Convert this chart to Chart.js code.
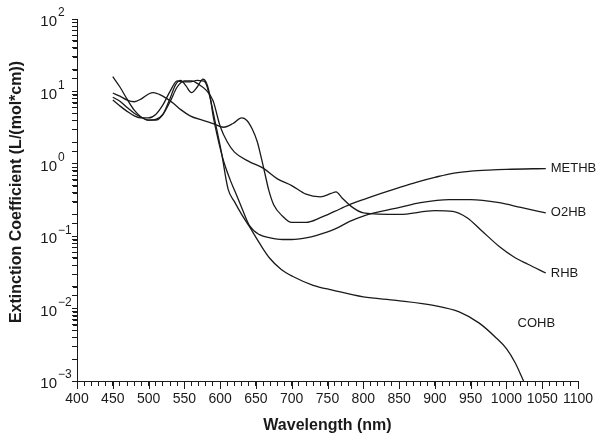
<!DOCTYPE html>
<html>
<head>
<meta charset="utf-8">
<script src="https://cdn.jsdelivr.net/npm/chart.js@4.4.1/dist/chart.umd.min.js"></script>
<style>
  html, body { margin: 0; padding: 0; background: #fff; }
</style>
</head>
<body>
<canvas id="chart" width="600" height="435"></canvas>
<script>
// wavelength (nm) / extinction values
const methbNm  = [450, 460, 470, 480, 490, 500, 507, 515, 525, 535, 545, 558, 575, 590, 605, 618, 630, 637, 645, 652, 658, 663, 668, 675, 687, 700, 720, 740, 760, 780, 800, 825, 850, 875, 900, 925, 950, 975, 1000, 1055];
const methbVal = [9.5, 8.6, 7.6, 7.2, 7.9, 9.2, 9.6, 9.1, 8.0, 6.8, 5.6, 4.6, 4.0, 3.6, 3.2, 3.6, 4.3, 4.0, 3.0, 2.0, 1.15, 0.7, 0.43, 0.27, 0.19, 0.155, 0.155, 0.18, 0.22, 0.27, 0.32, 0.39, 0.47, 0.56, 0.65, 0.74, 0.79, 0.82, 0.84, 0.86];

const o2hbNm  = [450, 460, 470, 480, 490, 500, 510, 520, 530, 538, 545, 552, 560, 568, 576, 581, 586, 590, 595, 600, 606, 614, 621, 630, 641, 655, 670, 687, 700, 720, 735, 760, 781, 800, 825, 851, 880, 920, 950, 990, 1020, 1055];
const o2hbVal = [8.3, 7.3, 6.0, 5.0, 4.4, 4.0, 4.0, 4.8, 8.0, 12.5, 14.2, 12.0, 9.6, 11.5, 14.8, 13.0, 8.5, 4.7, 2.7, 1.65, 1.0, 0.6, 0.41, 0.25, 0.14, 0.105, 0.095, 0.09, 0.09, 0.095, 0.103, 0.125, 0.16, 0.19, 0.22, 0.25, 0.29, 0.32, 0.32, 0.29, 0.25, 0.21];

const rhbNm  = [450, 460, 470, 480, 490, 500, 510, 520, 530, 540, 550, 560, 570, 580, 590, 600, 610, 620, 640, 660, 680, 700, 720, 740, 755, 762, 770, 785, 800, 850, 900, 925, 945, 965, 990, 1010, 1030, 1055];
const rhbVal = [16, 11.5, 7.8, 5.5, 4.4, 4.0, 4.1, 4.8, 7.2, 11.5, 14.0, 14.0, 12.5, 10.5, 7.5, 3.3, 2.0, 1.45, 1.08, 0.87, 0.62, 0.5, 0.38, 0.35, 0.39, 0.41, 0.34, 0.25, 0.21, 0.2, 0.225, 0.22, 0.18, 0.12, 0.072, 0.052, 0.041, 0.031];

const cohbNm  = [450, 460, 470, 480, 490, 500, 510, 520, 530, 540, 548, 558, 568, 575, 580, 586, 593, 602, 611, 620, 630, 641, 655, 669, 685, 701, 730, 757, 800, 846, 900, 934, 962, 985, 1000, 1012, 1024];
const cohbVal = [7.6, 6.3, 5.3, 4.6, 4.3, 4.3, 4.8, 6.5, 10, 14, 13.5, 13.5, 14.2, 14.0, 13.0, 8.1, 3.8, 1.4, 0.45, 0.3, 0.2, 0.135, 0.08, 0.05, 0.035, 0.028, 0.021, 0.018, 0.0145, 0.013, 0.011, 0.009, 0.0063, 0.004, 0.0028, 0.0018, 0.001];

const seriesNames = ['METHB', 'O2HB', 'RHB', 'COHB'];
const yDecades = [-3, -2, -1, 0, 1, 2];
const xLabelStep = 50;

const ink = '#1a1a1a';
const font = "'Liberation Sans', Arial, sans-serif";

function pts(nm, val) {
  return nm.map((x, i) => ({ x: x, y: val[i] }));
}

function line(label, nm, val) {
  return {
    label: label,
    data: pts(nm, val),
    borderColor: ink,
    borderWidth: 1.3,
    pointRadius: 0,
    fill: false,
    cubicInterpolationMode: 'monotone'
  };
}

// superscript decade labels, log minor ticks, axis titles, series names, longer 50 nm ticks
const decorations = {
  id: 'decorations',
  afterDraw(chart) {
    const ctx = chart.ctx;
    const xs = chart.scales.x;
    const ys = chart.scales.y;
    ctx.save();
    ctx.fillStyle = ink;
    ctx.strokeStyle = ink;
    ctx.lineWidth = 1;

    // minor log ticks 2..9 x 10^n
    ctx.beginPath();
    yDecades.forEach(p => {
      if (p === yDecades[yDecades.length - 1]) return;
      for (let k = 2; k <= 9; k++) {
        const y = Math.round(ys.getPixelForValue(k * Math.pow(10, p))) + 0.5;
        ctx.moveTo(ys.right - 4, y);
        ctx.lineTo(ys.right, y);
      }
    });
    ctx.stroke();

    // decade labels 10^n
    yDecades.forEach(p => {
      const y = ys.getPixelForValue(Math.pow(10, p));
      ctx.font = '15px ' + font;
      ctx.textAlign = 'right';
      ctx.textBaseline = 'middle';
      ctx.fillText('10', 57, y + 3);
      ctx.font = '12px ' + font;
      ctx.textAlign = 'left';
      ctx.fillText(p < 0 ? '\u2212' + (-p) : String(p), 58, y - 6);
    });

    // longer ticks every 50 nm
    ctx.beginPath();
    for (let v = xs.min; v <= xs.max; v += xLabelStep) {
      const x = Math.round(xs.getPixelForValue(v)) + 0.5;
      ctx.moveTo(x, xs.top);
      ctx.lineTo(x, xs.top + 8);
    }
    ctx.stroke();

    // series names at the curve ends
    ctx.font = '13px ' + font;
    ctx.textAlign = 'left';
    ctx.textBaseline = 'middle';
    const offs = [[5, 0], [5, 0], [5, 0], [-6, -58]];
    chart.data.datasets.forEach((ds, i) => {
      const pts = chart.getDatasetMeta(i).data;
      const end = pts[pts.length - 1];
      ctx.fillText(seriesNames[i], end.x + offs[i][0], end.y + offs[i][1]);
    });

    // y title
    ctx.font = 'bold 16px ' + font;
    ctx.textAlign = 'center';
    ctx.translate(17, 192);
    ctx.rotate(-Math.PI / 2);
    ctx.fillText('Extinction Coefficient (L/(mol*cm))', 0, 0);
    ctx.restore();
  }
};

new Chart(document.getElementById('chart'), {
  type: 'line',
  data: {
    datasets: [
      line('METHB', methbNm, methbVal),
      line('O2HB', o2hbNm, o2hbVal),
      line('RHB', rhbNm, rhbVal),
      line('COHB', cohbNm, cohbVal)
    ]
  },
  options: {
    responsive: false,
    animation: false,
    layout: { padding: { top: 19, right: 22, left: 0, bottom: 0 } },
    plugins: {
      legend: { display: false },
      tooltip: { enabled: false }
    },
    scales: {
      x: {
        type: 'linear',
        min: 400,
        max: 1100,
        border: { display: true, color: ink, width: 1 },
        grid: { drawOnChartArea: false, color: ink, tickLength: 5 },
        ticks: {
          stepSize: 10,
          autoSkip: false,
          maxRotation: 0,
          padding: 5,
          color: ink,
          font: { family: font, size: 14 },
          callback: v => (v % xLabelStep === 0 ? String(v) : '')
        },
        title: {
          display: true,
          text: 'Wavelength (nm)',
          color: ink,
          font: { family: font, size: 16, weight: 'bold' },
          padding: { top: 1, bottom: 0 }
        },
        afterFit: s => { s.height = 54; }
      },
      y: {
        type: 'logarithmic',
        min: 0.001,
        max: 100,
        border: { display: true, color: ink, width: 1 },
        grid: { drawOnChartArea: false, color: ink, tickLength: 5 },
        ticks: { display: false, autoSkip: false },
        afterFit: s => { s.width = 77; }
      }
    }
  },
  plugins: [decorations]
});
</script>
</body>
</html>
